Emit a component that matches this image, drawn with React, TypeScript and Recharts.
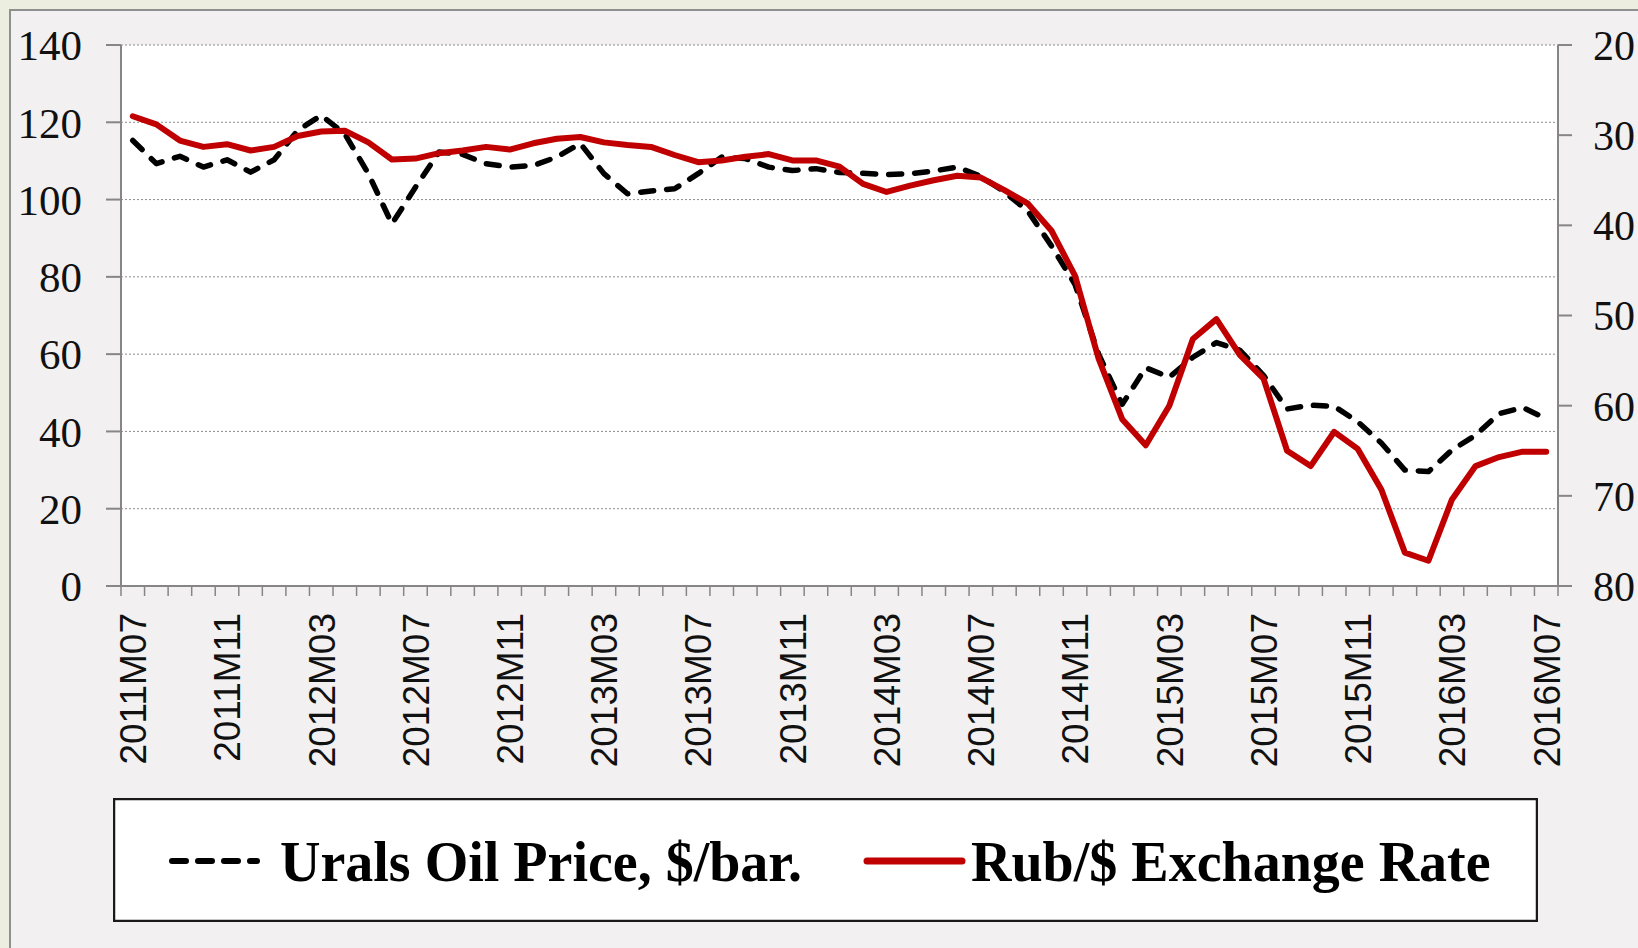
import React from 'react';
import { LineChart, Line, XAxis, YAxis, CartesianGrid } from 'recharts';

const months = [
  '2011M07', '2011M08', '2011M09', '2011M10', '2011M11', '2011M12',
  '2012M01', '2012M02', '2012M03', '2012M04', '2012M05', '2012M06',
  '2012M07', '2012M08', '2012M09', '2012M10', '2012M11', '2012M12',
  '2013M01', '2013M02', '2013M03', '2013M04', '2013M05', '2013M06',
  '2013M07', '2013M08', '2013M09', '2013M10', '2013M11', '2013M12',
  '2014M01', '2014M02', '2014M03', '2014M04', '2014M05', '2014M06',
  '2014M07', '2014M08', '2014M09', '2014M10', '2014M11', '2014M12',
  '2015M01', '2015M02', '2015M03', '2015M04', '2015M05', '2015M06',
  '2015M07', '2015M08', '2015M09', '2015M10', '2015M11', '2015M12',
  '2016M01', '2016M02', '2016M03', '2016M04', '2016M05', '2016M06',
  '2016M07',
];

const uralsOil = [
  115.3, 109.3, 111.2, 108.4, 110.3, 107.1, 110.3, 117.9, 121.8, 117.0,
  106.7, 93.7, 103.2, 112.3, 111.7, 109.3, 108.4, 108.8, 111.0, 114.5,
  106.7, 101.5, 102.2, 102.8, 106.7, 111.0, 110.6, 108.4, 107.5, 108.0,
  107.0, 106.8, 106.5, 106.7, 107.4, 108.4, 106.0, 102.0, 97.0, 88.0,
  78.0, 60.0, 47.0, 56.5, 54.0, 59.2, 63.0, 61.0, 54.5, 45.8,
  46.8, 46.5, 42.5, 37.0, 30.0, 29.6, 35.2, 39.0, 44.6, 46.2,
  43.3,
];

const rubUsd = [
  27.9, 28.8, 30.6, 31.3, 31.0, 31.7, 31.3, 30.1, 29.6, 29.5,
  30.8, 32.7, 32.6, 32.0, 31.7, 31.3, 31.6, 30.9, 30.4, 30.2,
  30.8, 31.1, 31.3, 32.2, 33.0, 32.8, 32.4, 32.1, 32.8, 32.8,
  33.5, 35.4, 36.3, 35.6, 35.0, 34.5, 34.7, 36.1, 37.6, 40.6,
  45.6, 54.8, 61.5, 64.4, 60.0, 52.6, 50.4, 54.4, 57.0, 65.0,
  66.7, 62.9, 64.8, 69.3, 76.3, 77.2, 70.4, 66.7, 65.7, 65.1,
  65.1,
];

const leftTicks = [0, 20, 40, 60, 80, 100, 120, 140];
const rightTicks = [20, 30, 40, 50, 60, 70, 80];
const seriesNames = ['Urals Oil Price, $/bar.', 'Rub/$ Exchange Rate'];

const data = months.map((m, i) => ({ month: m, oil: uralsOil[i], rub: rubUsd[i] }));

const W = 1638;
const H = 948;
const PLOT_LEFT = 121;
const PLOT_RIGHT = 1558;
const PLOT_TOP = 45;
const PLOT_BOTTOM = 586;
const HALF = (PLOT_RIGHT - PLOT_LEFT) / months.length / 2;
const AXIS_GRAY = '#868686';
const RED = '#c00000';

const XTick = (props: any) => {
  const { x, y, payload } = props;
  const idx = payload && payload.index != null ? payload.index : props.index;
  const isLast = idx === months.length - 1;
  return (
    <g>
      <line x1={x - HALF} x2={x - HALF} y1={y} y2={y + 10} stroke={AXIS_GRAY} strokeWidth={1.5} />
      {isLast && (
        <line x1={x + HALF} x2={x + HALF} y1={y} y2={y + 10} stroke={AXIS_GRAY} strokeWidth={1.5} />
      )}
      {idx % 4 === 0 && (
        <text
          x={x}
          y={y + 27}
          transform={`rotate(-90, ${x}, ${y + 27})`}
          textAnchor="end"
          dy="0.36em"
          fontFamily="'Liberation Sans', Arial, sans-serif"
          fontSize={37}
          fill="#111"
        >
          {payload.value}
        </text>
      )}
    </g>
  );
};

const Legendbox = () => (
  <svg
    width={1425}
    height={124}
    style={{ position: 'absolute', left: 113, top: 798 }}
  >
    <rect x={1} y={1} width={1423} height={122} fill="#fff" stroke="#1a1a1a" strokeWidth={2.5} />
    <line x1={59} x2={144} y1={63} y2={63} stroke="#000" strokeWidth={6} strokeDasharray="14 12" strokeLinecap="round" />
    <text x={167} y={83} fontFamily="'Liberation Serif', 'Times New Roman', serif" fontWeight="bold" fontSize={56} fill="#000">
      {seriesNames[0]}
    </text>
    <line x1={754} x2={849} y1={63} y2={63} stroke={RED} strokeWidth={7} strokeLinecap="round" />
    <text x={858} y={83} fontFamily="'Liberation Serif', 'Times New Roman', serif" fontWeight="bold" fontSize={56} fill="#000">
      {seriesNames[1]}
    </text>
  </svg>
);

export default function App() {
  return (
    <div style={{ position: 'relative', width: W, height: H, overflow: 'hidden', background: '#eceee0' }}>
      <style>{'body{margin:0;}'}</style>
      <div
        style={{
          position: 'absolute',
          left: 9,
          top: 9,
          width: W + 50,
          height: H + 50,
          background: '#f2f0f0',
          borderLeft: '2px solid #8f8f8f',
          borderTop: '2px solid #8f8f8f',
        }}
      />
      <div style={{ position: 'absolute', left: 0, top: 0 }}>
        <LineChart
          width={W}
          height={H}
          data={data}
          margin={{ top: PLOT_TOP, right: 0, bottom: 0, left: 0 }}
        >
          <CartesianGrid
            yAxisId="left"
            vertical={false}
            stroke="#8c8c8c"
            strokeDasharray="2 2"
            fill="#ffffff"
          />
          <XAxis
            dataKey="month"
            type="category"
            interval={0}
            height={H - PLOT_BOTTOM}
            padding={{ left: HALF, right: HALF }}
            tickLine={false}
            tickSize={0}
            tickMargin={0}
            axisLine={{ stroke: AXIS_GRAY, strokeWidth: 2 }}
            tick={<XTick />}
          />
          <YAxis
            yAxisId="left"
            orientation="left"
            width={PLOT_LEFT}
            domain={[0, 140]}
            ticks={leftTicks}
            interval={0}
            tickSize={15}
            tickMargin={24}
            axisLine={{ stroke: AXIS_GRAY, strokeWidth: 2 }}
            tickLine={{ stroke: AXIS_GRAY, strokeWidth: 2 }}
            tick={{ fontFamily: "'Liberation Serif', 'Times New Roman', serif", fontSize: 43, fill: '#111' }}
          />
          <YAxis
            yAxisId="right"
            orientation="right"
            width={W - PLOT_RIGHT}
            domain={[20, 80]}
            reversed
            ticks={rightTicks}
            interval={0}
            tickSize={14}
            tickMargin={21}
            axisLine={{ stroke: AXIS_GRAY, strokeWidth: 2 }}
            tickLine={{ stroke: AXIS_GRAY, strokeWidth: 2 }}
            tick={{ fontFamily: "'Liberation Serif', 'Times New Roman', serif", fontSize: 42, fill: '#111', textAnchor: 'start' }}
          />
          <Line
            yAxisId="left"
            dataKey="oil"
            name={seriesNames[0]}
            type="linear"
            stroke="#000"
            strokeWidth={5.5}
            strokeDasharray="13 13"
            strokeLinecap="round"
            strokeLinejoin="round"
            dot={false}
            activeDot={false}
            isAnimationActive={false}
          />
          <Line
            yAxisId="right"
            dataKey="rub"
            name={seriesNames[1]}
            type="linear"
            stroke={RED}
            strokeWidth={6}
            strokeLinecap="round"
            strokeLinejoin="round"
            dot={false}
            activeDot={false}
            isAnimationActive={false}
          />
        </LineChart>
      </div>
      <Legendbox />
    </div>
  );
}
